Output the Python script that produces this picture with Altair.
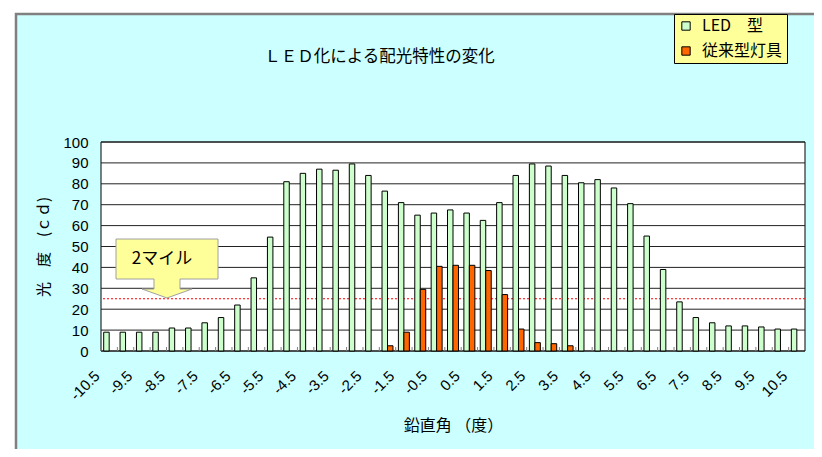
import altair as alt
import pandas as pd

# ---------------- data ----------------
categories = ["-10.5", "-10", "-9.5", "-9", "-8.5", "-8", "-7.5", "-7", "-6.5", "-6",
              "-5.5", "-5", "-4.5", "-4", "-3.5", "-3", "-2.5", "-2", "-1.5", "-1",
              "-0.5", "0", "0.5", "1", "1.5", "2", "2.5", "3", "3.5", "4",
              "4.5", "5", "5.5", "6", "6.5", "7", "7.5", "8", "8.5", "9",
              "9.5", "10", "10.5"]
led_values = [9, 9, 9, 9, 11, 11, 13.5, 16, 22, 35,
              54.5, 81, 85, 87, 86.5, 89.5, 84, 76.5, 71, 65,
              66, 67.5, 66, 62.5, 71, 84, 89.5, 88.5, 84, 80.5,
              82, 78, 70.5, 55, 39, 23.5, 16, 13.5, 12, 12,
              11.5, 10.5, 10.5]
conventional_values = [None, None, None, None, None, None, None, None, None, None,
                       None, None, None, None, None, None, None, 2.5, 9, 29.5,
                       40.5, 41, 41, 38.5, 27, 10.5, 4, 3.5, 2.5, None,
                       None, None, None, None, None, None, None, None, None, None,
                       None, None, None]
tick_labels = ["-10.5", "-9.5", "-8.5", "-7.5", "-6.5", "-5.5", "-4.5", "-3.5", "-2.5",
               "-1.5", "-0.5", "0.5", "1.5", "2.5", "3.5", "4.5", "5.5", "6.5", "7.5",
               "8.5", "9.5", "10.5"]
y_ticks = [0, 10, 20, 30, 40, 50, 60, 70, 80, 90, 100]
series_names = ["LED　型", "従来型灯具"]
series_colors = ["#CCFFCC", "#FF6600"]
threshold_value = 25
threshold_label = ["2マイル"]
chart_title = ["ＬＥＤ化による配光特性の変化"]

rows = []
for c, v in zip(categories, led_values):
    rows.append({"cat": c, "series": series_names[0], "value": v})
for c, v in zip(categories, conventional_values):
    if v is not None:
        rows.append({"cat": c, "series": series_names[1], "value": v})
df = pd.DataFrame(rows)
df_cats = pd.DataFrame({"cat": categories})
df_grid = pd.DataFrame({"value": y_ticks})
one = pd.DataFrame({"k": [0]})

JP = "Noto Sans CJK JP"
LAT = "Liberation Sans"
W, H = 704, 209

xscale = alt.Scale(domain=categories, paddingInner=0.33, paddingOuter=0.165)
yscale = alt.Scale(domain=[0, 100], nice=False, zero=True)

xaxis = alt.Axis(values=tick_labels, labelAngle=315, labelAlign="right",
                 labelBaseline="middle", labelPadding=22, labelOffset=-12,
                 ticks=False, tickSize=0,
                 domain=False, grid=False, labelFontSize=15, labelFont=LAT,
                 labelColor="black", labelOverlap=False, zindex=1,
                 title="鉛直角 （度）", titleFont=JP, titleFontSize=16,
                 titleFontWeight="normal", titleColor="black",
                 titleX=352, titleY=74, titleAlign="center", titleBaseline="middle")
yaxis = alt.Axis(values=y_ticks, tickCount=11, ticks=False, tickSize=0, domain=False, grid=False,
                 labelPadding=13, labelFontSize=15, labelFont=LAT, labelColor="black",
                 labelOverlap=False, zindex=1,
                 title="光　度　(ｃｄ)", titleFont=JP, titleFontSize=15,
                 titleFontWeight="normal", titleColor="black",
                 titleX=-58, titleY=104.5, titleAngle=270, titleAlign="center",
                 titleBaseline="middle")

bg = alt.Chart(one).mark_rect(fill="#CCFFFF", stroke="#808080", strokeWidth=2.5).encode(
    x=alt.value(-85), x2=alt.value(730), y=alt.value(-128), y2=alt.value(330))

plot_bg = alt.Chart(one).mark_rect(fill="white", stroke="black", strokeWidth=1).encode(
    x=alt.value(0), x2=alt.value(W), y=alt.value(0), y2=alt.value(H))

grid = alt.Chart(df_grid).mark_rule(color="#222222", strokeWidth=1).encode(
    y=alt.Y("value:Q", scale=yscale, axis=yaxis))

threshold = alt.Chart(one).mark_rule(color="#FF0000", strokeDash=[2, 2], strokeWidth=1.2).encode(
    y=alt.Y(datum=threshold_value, type="quantitative", scale=yscale, axis=yaxis))

bars = alt.Chart(df).mark_bar(stroke="black", strokeWidth=1).encode(
    x=alt.X("cat:N", scale=xscale, axis=xaxis),
    xOffset=alt.XOffset("series:N", scale=alt.Scale(domain=series_names)),
    y=alt.Y("value:Q", scale=yscale, axis=yaxis),
    color=alt.Color("series:N",
                    scale=alt.Scale(domain=series_names, range=series_colors),
                    legend=alt.Legend(title=None, orient="none", legendX=573, legendY=-128,
                                      fillColor="#FFFF99", strokeColor="black", padding=4,
                                      symbolType="square", symbolSize=70,
                                      symbolStrokeColor="black", symbolStrokeWidth=1,
                                      labelFont=JP, labelFontSize=16, labelColor="black",
                                      labelOffset=8, rowPadding=9)),
)

ticks = alt.Chart(df_cats).mark_rule(color="#808080", strokeWidth=1, xOffset=-2.7).encode(
    x=alt.X("cat:N", scale=xscale, axis=xaxis, bandPosition=0),
    y=alt.value(H - 4), y2=alt.value(H))

callout_path = ("M-1,-0.578 L1,-0.578 L1,0.206 L0.255,0.206 L0.255,0.402 L0.49,0.402 "
                "L0,0.578 L-0.49,0.402 L-0.255,0.402 L-0.255,0.206 L-1,0.206 Z")
callout = alt.Chart(one).mark_point(shape=callout_path, size=10404, filled=True,
                                    fill="#FFFF99", stroke="#A0A0A0", strokeWidth=1,
                                    opacity=1).encode(
    x=alt.value(66), y=alt.value(126.5))

callout_text = alt.Chart(pd.DataFrame({"t": threshold_label})).mark_text(
    font=JP, fontSize=17, color="black", align="center", baseline="middle").encode(
    text="t:N", x=alt.value(61), y=alt.value(117))

title_text = alt.Chart(pd.DataFrame({"t": chart_title})).mark_text(
    font=JP, fontSize=16.5, color="black", align="center", baseline="middle").encode(
    text="t:N", x=alt.value(278.5), y=alt.value(-85))

chart = alt.layer(bg, plot_bg, grid, threshold, bars, ticks, callout, callout_text, title_text).properties(
    width=W, height=H,
    autosize=alt.AutoSizeParams(type="none"),
    padding={"left": 93, "top": 134, "right": 9, "bottom": 98},
    background="white",
).configure_view(stroke=None)

chart.save("out.html", embed_options={"renderer": "svg", "actions": False})
